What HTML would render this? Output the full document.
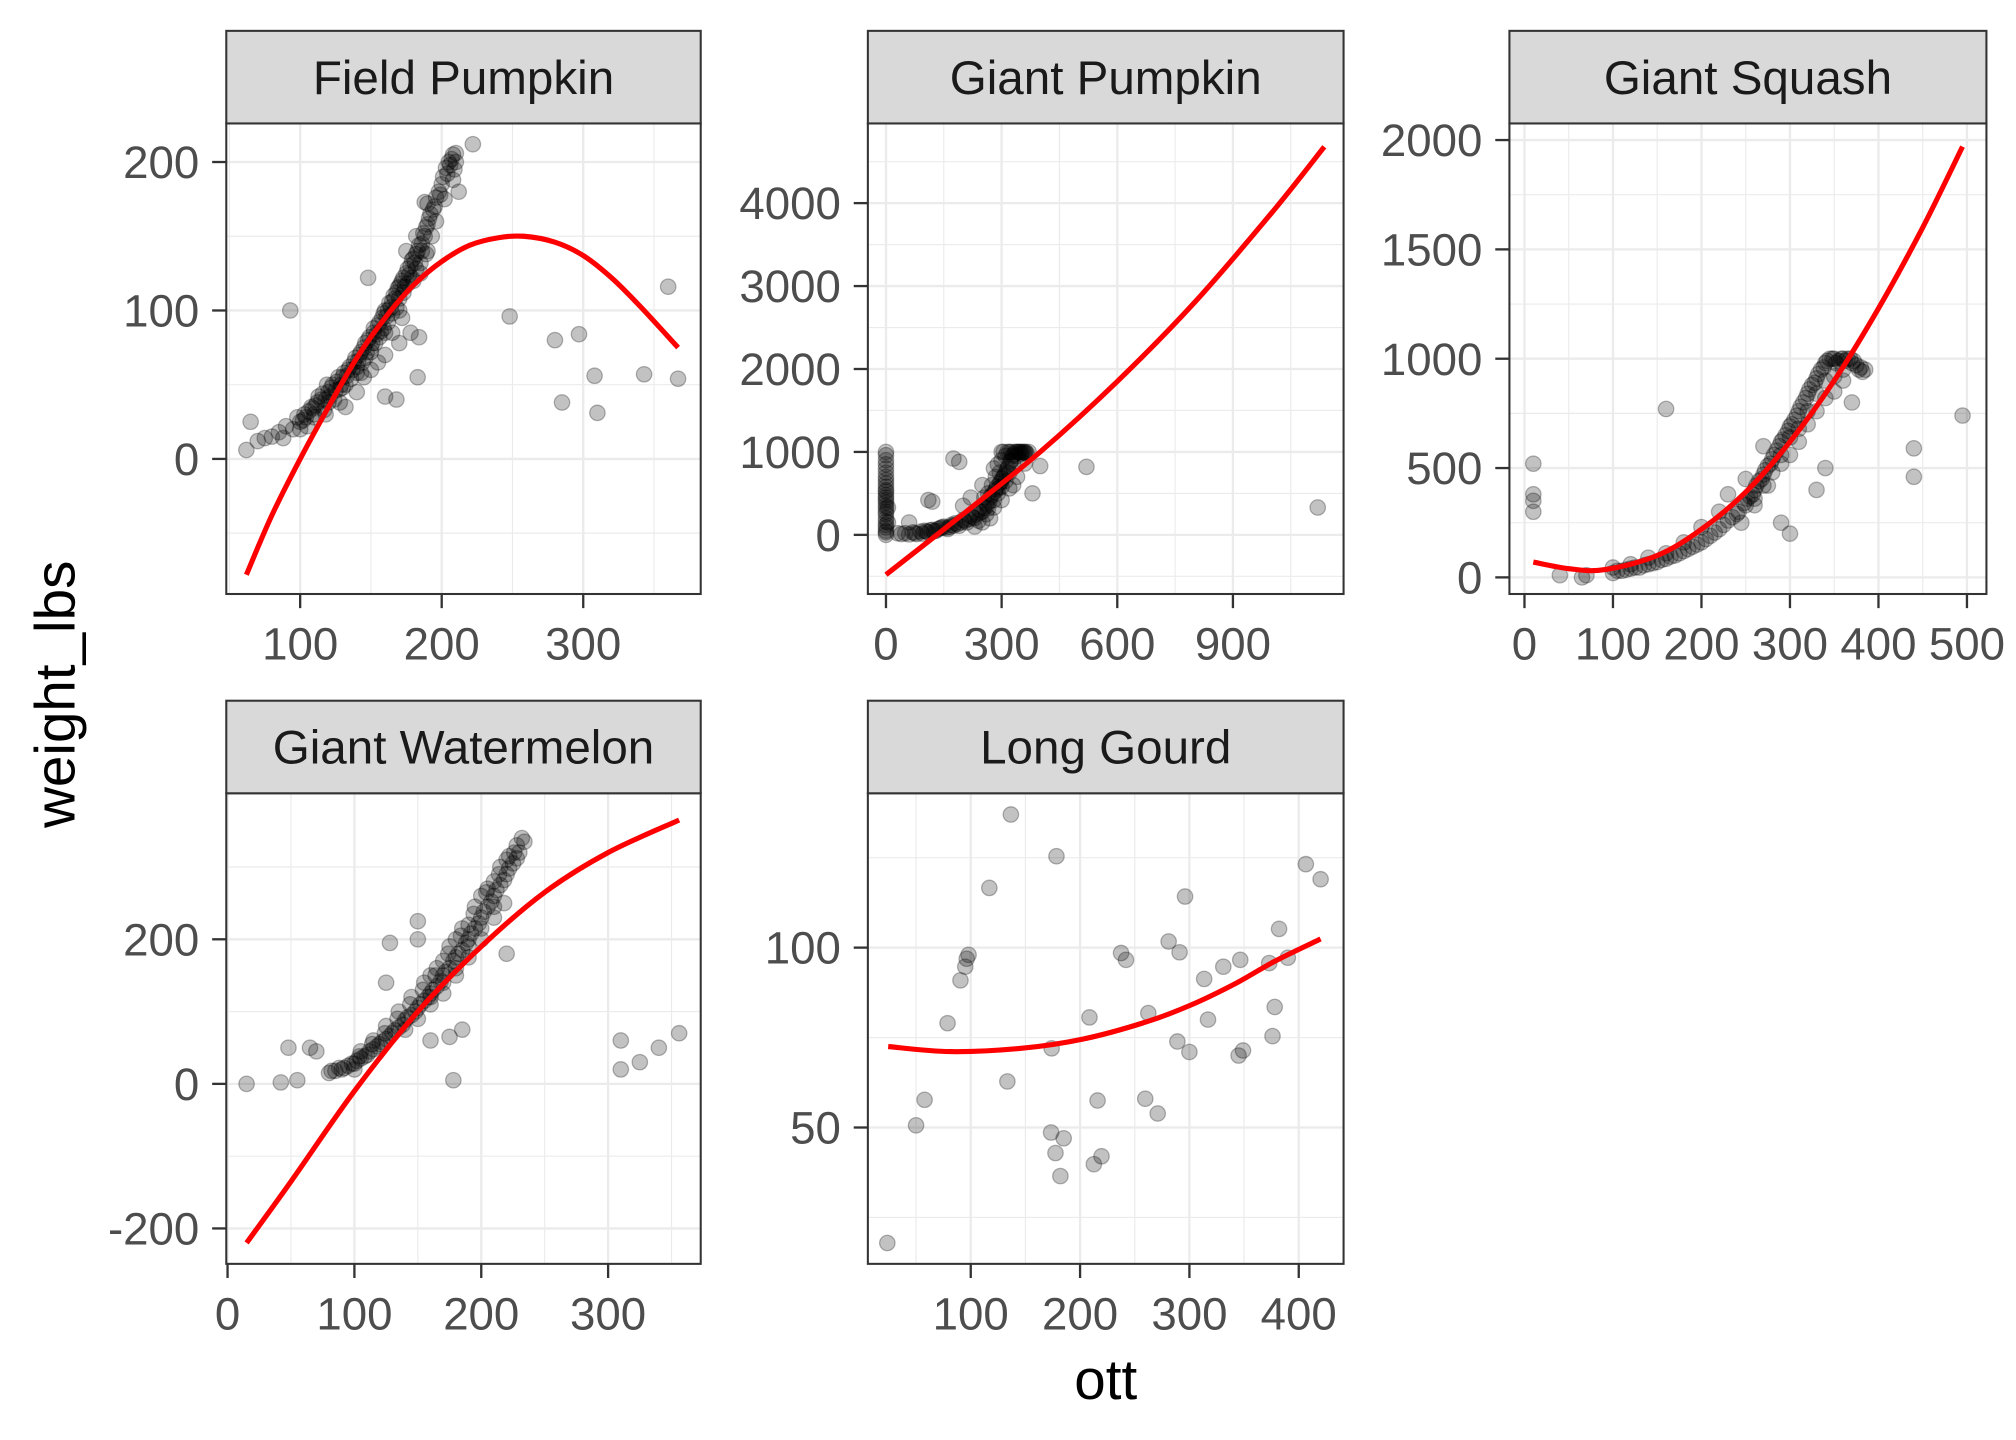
<!DOCTYPE html>
<html><head><meta charset="utf-8"><title>Faceted scatter: weight_lbs vs ott</title>
<style>html,body{margin:0;padding:0;background:#fff}svg{display:block}</style></head>
<body>
<svg id="chart" width="2016" height="1440" viewBox="0 0 1568 1120" xmlns="http://www.w3.org/2000/svg" font-family="Liberation Sans, Arial, sans-serif">
<rect x="0" y="0" width="1568" height="1120" fill="#fff"/>
<text x="860" y="1088" text-anchor="middle" font-size="44" fill="#000">ott</text>
<text x="0" y="0" transform="translate(58,540) rotate(-90)" text-anchor="middle" font-size="44" fill="#000">weight_lbs</text>
</svg>
<script>
// ---------- data ----------
const panelNames = ["Field Pumpkin","Giant Pumpkin","Giant Squash","Giant Watermelon","Long Gourd"];

const fieldXTicks = [100,200,300];
const fieldYTicks = [0,100,200];
const fieldPts = [[70,12],[75,14],[80,15],[85,18],[88,14],[90,22],[95,20],[98,28],[100,25],[103,30],[105,22],[108,35],[110,30],[112,38],[115,40],[117,33],[120,45],[122,48],[124,40],[126,52],[128,47],[130,55],[132,50],[134,60],[136,54],[138,65],[140,62],[142,70],[143,58],[145,75],[146,68],[148,80],[150,72],[152,85],[153,78],[155,90],[156,82],[158,95],[159,88],[160,100],[162,92],[163,105],[165,98],[166,110],[168,102],[169,115],[170,108],[172,120],[173,112],[175,125],[176,118],[178,130],[179,122],[180,135],[182,128],[183,140],[185,132],[186,145],[188,150],[189,138],[190,158],[192,165],[193,150],[195,170],[196,160],[198,180],[200,185],[202,175],[204,192],[206,198],[208,188],[208,205],[210,200],[190,172],[182,150],[175,140],[178,85],[184,82],[170,78],[150,60],[140,45],[132,35],[160,70],[155,65],[165,85],[172,95],[145,55],[128,38],[118,30],[62,6],[65,25],[93,100],[148,122],[183,55],[160,42],[168,40],[248,96],[280,80],[285,38],[297,84],[308,56],[310,31],[343,57],[360,116],[367,54],[222,212],[210,206],[188,173],[212,180]];
const fieldPtsExtra = [[100,20],[102,26],[104,28],[106,32],[109,34],[111,36],[113,42],[116,44],[118,40],[119,50],[121,42],[123,50],[125,46],[127,55],[129,50],[131,58],[133,56],[135,62],[137,60],[139,68],[141,66],[143,72],[144,65],[146,78],[147,72],[149,82],[151,78],[152,88],[154,84],[156,92],[157,86],[159,98],[161,96],[162,100],[164,102],[165,106],[167,108],[168,112],[170,116],[171,118],[173,122],[174,116],[176,128],[177,124],[179,134],[181,132],[182,138],[184,144],[186,140],[187,152],[189,156],[191,162],[194,168],[196,176],[199,178],[201,190],[203,196],[205,200],[207,202],[209,195],[180,120],[185,125],[190,140],[170,100],[160,85],[150,75],[140,58],[130,48],[120,38],[110,28]];
const fieldFit = [[62,-78],[80,-38],[100,0],[120,35],[140,68],[160,95],[180,117],[200,133],[220,144],[240,149],[258,150],[280,146],[300,137],[320,122],[340,103],[367,75]];

const gpXTicks = [0,300,600,900];
const gpYTicks = [0,1000,2000,3000,4000];
const gpPts = [[0,0],[0,50],[0,120],[0,200],[0,280],[0,350],[0,420],[0,480],[0,540],[0,580],[0,700],[0,800],[0,900],[0,960],[0,1000],[5,150],[5,330],[30,20],[50,20],[70,30],[80,10],[90,40],[100,50],[110,30],[120,60],[130,50],[140,80],[150,100],[160,70],[170,120],[180,140],[190,110],[200,180],[210,150],[220,230],[230,200],[240,300],[250,280],[260,380],[265,320],[270,450],[280,420],[285,550],[290,500],[295,620],[300,580],[305,700],[310,650],[315,800],[320,750],[325,900],[330,850],[335,1000],[340,950],[345,1000],[350,980],[355,1000],[360,1000],[320,1000],[310,950],[300,900],[290,850],[280,800],[250,600],[220,450],[200,350],[330,600],[340,700],[360,860],[250,150],[230,100],[270,200],[400,830],[380,500],[190,880],[175,920],[110,420],[60,150],[520,820],[1120,330],[120,400],[260,250],[280,330],[300,420],[320,560],[240,170]];
const gpPtsExtra = [[40,10],[60,5],[75,20],[95,15],[105,40],[115,55],[125,45],[135,70],[145,90],[155,85],[165,95],[175,110],[185,130],[195,150],[205,170],[215,190],[225,210],[235,250],[245,270],[255,330],[262,350],[268,400],[275,480],[282,520],[288,580],[292,560],[298,640],[302,680],[308,720],[312,760],[318,820],[322,880],[328,950],[332,970],[338,1000],[342,1000],[348,1000],[352,1000],[358,990],[362,1000],[365,980],[370,1000],[300,1000],[305,1000],[315,1000],[325,1000],[285,700],[295,750],[275,600],[265,500],[255,450],[0,30],[0,90],[0,160],[0,250],[0,320],[0,390],[0,450],[0,520],[0,620],[0,660],[0,750],[0,850]];
const gpFit = [[0,-480],[200,250],[400,1000],[600,1850],[800,2800],[1000,3880],[1137,4680]];

const gsXTicks = [0,100,200,300,400,500];
const gsYTicks = [0,500,1000,1500,2000];
const gsPts = [[100,20],[110,30],[120,40],[130,45],[140,60],[150,70],[160,85],[170,100],[180,120],[190,140],[200,160],[210,190],[220,220],[230,260],[240,290],[250,330],[255,370],[260,400],[265,440],[270,470],[275,510],[280,540],[285,580],[290,620],[295,650],[300,690],[305,720],[310,760],[315,800],[320,840],[325,880],[330,910],[335,950],[340,980],[345,1000],[350,1000],[355,990],[360,1000],[365,1000],[370,980],[375,970],[380,960],[385,950],[245,250],[260,330],[275,420],[290,520],[300,560],[310,620],[320,700],[330,760],[340,820],[350,850],[360,900],[270,600],[250,450],[230,380],[220,300],[200,230],[180,160],[160,110],[140,90],[120,60],[100,45],[300,200],[290,250],[330,400],[340,500],[370,800],[10,520],[10,380],[10,350],[10,300],[40,10],[65,0],[70,10],[160,770],[440,590],[440,460],[495,740]];
const gsPtsExtra = [[105,30],[115,35],[125,45],[135,55],[145,65],[155,80],[165,95],[175,110],[185,130],[195,150],[205,175],[215,205],[225,240],[235,275],[242,300],[248,340],[252,360],[258,380],[262,420],[268,450],[272,490],[278,520],[282,560],[288,600],[292,630],[298,670],[302,700],[308,740],[312,780],[318,820],[322,860],[328,890],[332,930],[338,960],[342,990],[348,1000],[352,980],[358,1000],[362,990],[368,1000],[372,990],[378,950],[382,940],[280,480],[270,420],[260,360],[320,760],[330,840],[340,900],[350,920],[360,950],[310,680],[300,640],[290,560]];
const gsFit = [[10,70],[50,40],[90,35],[150,100],[200,220],[250,390],[300,620],[350,900],[400,1230],[450,1600],[495,1970]];

const gwXTicks = [0,100,200,300];
const gwYTicks = [-200,0,200];
const gwPts = [[80,15],[85,18],[90,20],[95,25],[100,28],[105,35],[110,40],[115,48],[120,55],[125,62],[130,70],[135,78],[140,88],[145,95],[150,105],[155,115],[160,125],[165,135],[170,150],[175,160],[180,175],[185,185],[190,200],[195,215],[200,230],[205,245],[210,260],[215,275],[220,290],[225,305],[230,320],[232,340],[228,330],[222,315],[215,300],[205,270],[195,245],[185,215],[175,190],[165,160],[155,140],[145,120],[135,100],[125,80],[115,60],[105,45],[140,75],[150,90],[160,110],[170,125],[180,150],[190,175],[200,200],[210,230],[218,250],[160,150],[170,170],[180,200],[190,220],[200,260],[210,280],[220,310],[15,0],[42,2],[48,50],[55,5],[65,50],[70,45],[100,20],[125,140],[128,195],[150,225],[160,60],[175,65],[178,5],[185,75],[220,180],[310,60],[310,20],[325,30],[340,50],[356,70],[150,200]];
const gwPtsExtra = [[82,18],[88,22],[92,22],[98,28],[102,32],[108,38],[112,45],[118,52],[122,58],[128,66],[132,74],[138,82],[142,92],[148,100],[152,110],[158,120],[162,130],[168,142],[172,155],[178,170],[182,180],[188,195],[192,208],[198,222],[202,238],[208,252],[212,268],[218,282],[222,298],[228,312],[234,335],[226,320],[214,290],[204,265],[194,235],[184,205],[174,180],[164,150],[154,130],[144,110],[134,90],[124,70],[114,55],[104,38],[170,140],[190,190],[210,245],[200,215],[180,160],[160,120]];
const gwFit = [[15,-220],[50,-135],[100,-10],[150,100],[200,190],[250,265],[300,320],[356,365]];

const lgXTicks = [100,200,300,400];
const lgYTicks = [50,100];
const lgPts = [[23.7,17.9],[50,50.6],[57.8,57.7],[78.8,79],[90.6,90.9],[95,94.7],[96.3,96.9],[98,98],[117,116.6],[136.7,137],[133.5,62.8],[178.4,125.4],[174,72],[173.5,48.6],[185,47],[177.5,42.9],[182,36.5],[208.6,80.6],[216,57.5],[212.6,39.8],[219.6,42],[237.5,98.5],[242,96.6],[259.6,58],[262.4,81.8],[271,53.9],[281,101.7],[291,98.7],[289,73.9],[296,114.2],[300,71],[313.5,91.3],[317,80],[331,94.7],[346.5,96.6],[345,70],[349,71.4],[373,95.7],[376,75.4],[378,83.5],[382,105.2],[390,97.2],[406.5,123.2],[420,119]];
const lgPtsExtra = [];
const lgFit = [[24.5,72.5],[81,71.1],[146,72],[203,74.6],[260,79.3],[301,84],[342,90],[378,96.2],[420,102.4]];

// ---------- layout ----------
const layout = [
  {x0:176,x1:545,sTop:24,pTop:96,pBot:462,xd:[47.8,383],yd:[-91,226]},
  {x0:675,x1:1045,sTop:24,pTop:96,pBot:462,xd:[-47,1187],yd:[-713,4961]},
  {x0:1174,x1:1545,sTop:24,pTop:96,pBot:462,xd:[-17,522],yd:[-76,2076]},
  {x0:176,x1:545,sTop:545,pTop:617,pBot:983,xd:[-1,373],yd:[-249,402]},
  {x0:675,x1:1045,sTop:545,pTop:617,pBot:983,xd:[5.9,441],yd:[12.1,142.9]}
];
const datasets = [
  [fieldXTicks,fieldYTicks,fieldPts.concat(fieldPtsExtra),fieldFit],
  [gpXTicks,gpYTicks,gpPts.concat(gpPtsExtra),gpFit],
  [gsXTicks,gsYTicks,gsPts.concat(gsPtsExtra),gsFit],
  [gwXTicks,gwYTicks,gwPts.concat(gwPtsExtra),gwFit],
  [lgXTicks,lgYTicks,lgPts.concat(lgPtsExtra),lgFit]
];
const NS = "http://www.w3.org/2000/svg";
const svg = document.getElementById('chart');
function mk(tag, attrs, parent){
  const e = document.createElementNS(NS, tag);
  for (const k in attrs) e.setAttribute(k, attrs[k]);
  (parent||svg).appendChild(e);
  return e;
}
function minors(ticks, d){
  const step = ticks[1]-ticks[0];
  const out = [];
  for (let v = ticks[0]-step/2; v <= ticks[ticks.length-1]+step/2+1e-9; v += step){
    if (v > d[0] && v < d[1]) out.push(v);
  }
  return out;
}
function smoothPath(P){
  let d = 'M' + P[0][0].toFixed(2) + ',' + P[0][1].toFixed(2);
  for (let k = 0; k < P.length-1; k++){
    const p0 = P[k-1] || P[k], p1 = P[k], p2 = P[k+1], p3 = P[k+2] || P[k+1];
    const c1 = [p1[0]+(p2[0]-p0[0])/6, p1[1]+(p2[1]-p0[1])/6];
    const c2 = [p2[0]-(p3[0]-p1[0])/6, p2[1]-(p3[1]-p1[1])/6];
    d += ' C' + c1[0].toFixed(2)+','+c1[1].toFixed(2)+' '+c2[0].toFixed(2)+','+c2[1].toFixed(2)+' '+p2[0].toFixed(2)+','+p2[1].toFixed(2);
  }
  return d;
}
layout.forEach((L, i) => {
  const [xt, yt, pts, fit] = datasets[i];
  const slug = panelNames[i].toLowerCase().replace(/ /g,'-');
  const g = mk('g', {});
  
  
  const sx = v => L.x0 + (v - L.xd[0]) / (L.xd[1]-L.xd[0]) * (L.x1 - L.x0);
  const sy = v => L.pBot - (v - L.yd[0]) / (L.yd[1]-L.yd[0]) * (L.pBot - L.pTop);
  minors(xt, L.xd).forEach(v => {
    const l = mk('line', {x1:sx(v),x2:sx(v),y1:L.pTop,y2:L.pBot,stroke:'#ebebeb','stroke-width':0.9}, g);
    
    
  });
  minors(yt, L.yd).forEach(v => {
    const l = mk('line', {x1:L.x0,x2:L.x1,y1:sy(v),y2:sy(v),stroke:'#ebebeb','stroke-width':0.9}, g);
    
    
  });
  xt.forEach(v => {
    const l = mk('line', {x1:sx(v),x2:sx(v),y1:L.pTop,y2:L.pBot,stroke:'#ebebeb','stroke-width':1.8}, g);
    
    
    const t = mk('line', {x1:sx(v),x2:sx(v),y1:L.pBot,y2:L.pBot+11,stroke:'#333','stroke-width':1.8}, g);
    
    
    const tx = mk('text', {x:sx(v),y:L.pBot+51,'text-anchor':'middle','font-size':35.5,fill:'#4d4d4d'}, g);
    tx.textContent = v;
    
    
  });
  yt.forEach(v => {
    const l = mk('line', {x1:L.x0,x2:L.x1,y1:sy(v),y2:sy(v),stroke:'#ebebeb','stroke-width':1.8}, g);
    
    
    const t = mk('line', {x1:L.x0-11,x2:L.x0,y1:sy(v),y2:sy(v),stroke:'#333','stroke-width':1.8}, g);
    
    
    const tx = mk('text', {x:L.x0-21,y:sy(v)+12.5,'text-anchor':'end','font-size':35.5,fill:'#4d4d4d'}, g);
    tx.textContent = v;
    
    
  });
  const clipId = 'clip' + i;
  const cp = mk('clipPath', {id:clipId}, g);
  mk('rect', {x:L.x0,y:L.pTop,width:L.x1-L.x0,height:L.pBot-L.pTop}, cp);
  const pg = mk('g', {'clip-path':'url(#'+clipId+')'}, g);
  pts.forEach(p => {
    const c = mk('circle', {cx:sx(p[0]),cy:sy(p[1]),r:6,fill:'rgba(0,0,0,0.24)',stroke:'rgba(0,0,0,0.28)','stroke-width':1}, pg);
    
    
  });
  const d = smoothPath(fit.map(p => [sx(p[0]), sy(p[1])]));
  const fl = mk('path', {d:d,fill:'none',stroke:'#ff0000','stroke-width':4,'stroke-linejoin':'round'}, pg);
  
  
  const b = mk('rect', {x:L.x0,y:L.pTop,width:L.x1-L.x0,height:L.pBot-L.pTop,fill:'none',stroke:'#333','stroke-width':1.6}, g);
  
  
  const s = mk('rect', {x:L.x0,y:L.sTop,width:L.x1-L.x0,height:L.pTop-L.sTop,fill:'#d9d9d9',stroke:'#333','stroke-width':1.6}, g);
  
  
  const st = mk('text', {x:(L.x0+L.x1)/2,y:L.sTop+49,'text-anchor':'middle','font-size':37,fill:'#1a1a1a'}, g);
  st.textContent = panelNames[i];
  
  
});
</script>
</body></html>
